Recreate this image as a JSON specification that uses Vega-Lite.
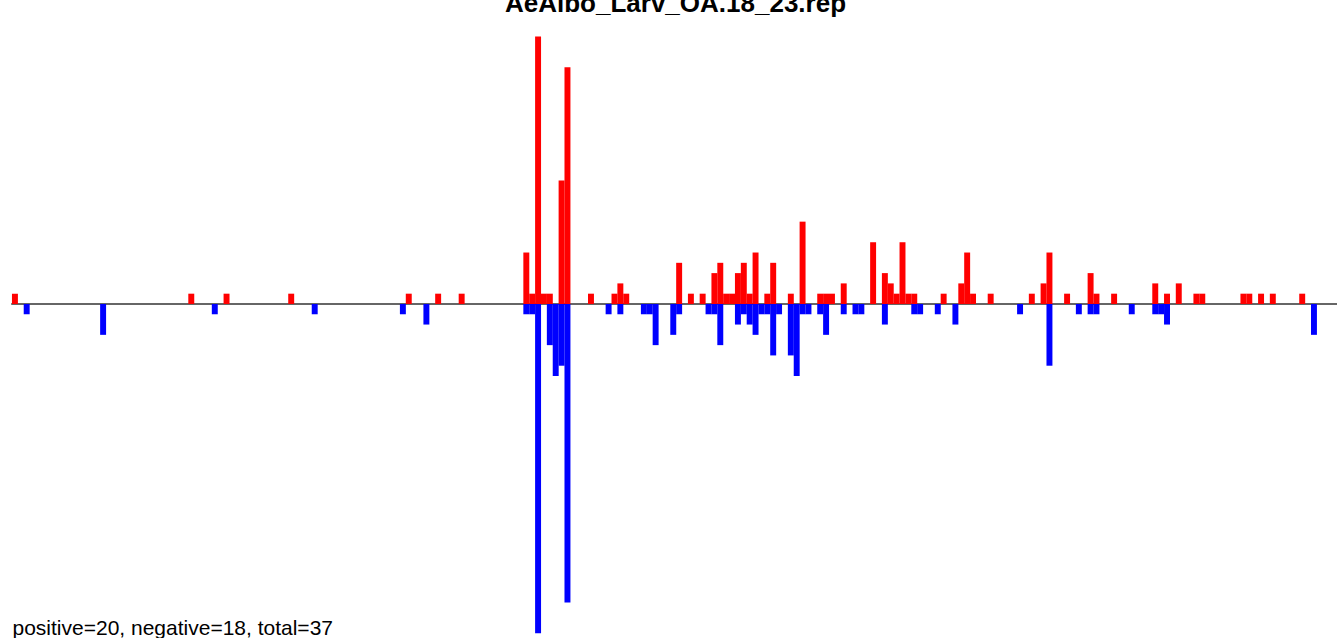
{
  "$schema": "https://vega.github.io/schema/vega-lite/v6.json",
  "width": 1337,
  "height": 638,
  "autosize": {"type": "none"},
  "padding": 0,
  "background": "white",
  "config": {"view": {"stroke": null}},
  "data": {"values": [
    {"i":0,"v":1,"s":"pos"},{"i":30,"v":1,"s":"pos"},{"i":36,"v":1,"s":"pos"},{"i":47,"v":1,"s":"pos"},{"i":67,"v":1,"s":"pos"},{"i":72,"v":1,"s":"pos"},{"i":76,"v":1,"s":"pos"},
    {"i":87,"v":5,"s":"pos"},{"i":88,"v":1,"s":"pos"},{"i":89,"v":26,"s":"pos"},{"i":90,"v":1,"s":"pos"},{"i":91,"v":1,"s":"pos"},{"i":93,"v":12,"s":"pos"},{"i":94,"v":23,"s":"pos"},
    {"i":98,"v":1,"s":"pos"},{"i":102,"v":1,"s":"pos"},{"i":103,"v":2,"s":"pos"},{"i":104,"v":1,"s":"pos"},{"i":113,"v":4,"s":"pos"},{"i":115,"v":1,"s":"pos"},{"i":117,"v":1,"s":"pos"},
    {"i":119,"v":3,"s":"pos"},{"i":120,"v":4,"s":"pos"},{"i":121,"v":1,"s":"pos"},{"i":122,"v":1,"s":"pos"},{"i":123,"v":3,"s":"pos"},{"i":124,"v":4,"s":"pos"},{"i":125,"v":1,"s":"pos"},
    {"i":126,"v":5,"s":"pos"},{"i":128,"v":1,"s":"pos"},{"i":129,"v":4,"s":"pos"},{"i":132,"v":1,"s":"pos"},{"i":134,"v":8,"s":"pos"},{"i":137,"v":1,"s":"pos"},{"i":138,"v":1,"s":"pos"},
    {"i":139,"v":1,"s":"pos"},{"i":141,"v":2,"s":"pos"},{"i":146,"v":6,"s":"pos"},{"i":148,"v":3,"s":"pos"},{"i":149,"v":2,"s":"pos"},{"i":150,"v":1,"s":"pos"},{"i":151,"v":6,"s":"pos"},
    {"i":152,"v":1,"s":"pos"},{"i":153,"v":1,"s":"pos"},{"i":158,"v":1,"s":"pos"},{"i":161,"v":2,"s":"pos"},{"i":162,"v":5,"s":"pos"},{"i":163,"v":1,"s":"pos"},{"i":166,"v":1,"s":"pos"},
    {"i":173,"v":1,"s":"pos"},{"i":175,"v":2,"s":"pos"},{"i":176,"v":5,"s":"pos"},{"i":179,"v":1,"s":"pos"},{"i":183,"v":3,"s":"pos"},{"i":184,"v":1,"s":"pos"},{"i":187,"v":1,"s":"pos"},
    {"i":194,"v":2,"s":"pos"},{"i":196,"v":1,"s":"pos"},{"i":198,"v":2,"s":"pos"},{"i":201,"v":1,"s":"pos"},{"i":202,"v":1,"s":"pos"},{"i":209,"v":1,"s":"pos"},{"i":210,"v":1,"s":"pos"},
    {"i":212,"v":1,"s":"pos"},{"i":214,"v":1,"s":"pos"},{"i":219,"v":1,"s":"pos"},
    {"i":2,"v":-1,"s":"neg"},{"i":15,"v":-3,"s":"neg"},{"i":34,"v":-1,"s":"neg"},{"i":51,"v":-1,"s":"neg"},{"i":66,"v":-1,"s":"neg"},{"i":70,"v":-2,"s":"neg"},
    {"i":87,"v":-1,"s":"neg"},{"i":88,"v":-1,"s":"neg"},{"i":89,"v":-32,"s":"neg"},{"i":91,"v":-4,"s":"neg"},{"i":92,"v":-7,"s":"neg"},{"i":93,"v":-6,"s":"neg"},{"i":94,"v":-29,"s":"neg"},
    {"i":101,"v":-1,"s":"neg"},{"i":103,"v":-1,"s":"neg"},{"i":107,"v":-1,"s":"neg"},{"i":108,"v":-1,"s":"neg"},{"i":109,"v":-4,"s":"neg"},{"i":112,"v":-3,"s":"neg"},{"i":113,"v":-1,"s":"neg"},
    {"i":118,"v":-1,"s":"neg"},{"i":119,"v":-1,"s":"neg"},{"i":120,"v":-4,"s":"neg"},{"i":123,"v":-2,"s":"neg"},{"i":124,"v":-1,"s":"neg"},{"i":125,"v":-2,"s":"neg"},{"i":126,"v":-3,"s":"neg"},
    {"i":127,"v":-1,"s":"neg"},{"i":128,"v":-1,"s":"neg"},{"i":129,"v":-5,"s":"neg"},{"i":130,"v":-1,"s":"neg"},{"i":132,"v":-5,"s":"neg"},{"i":133,"v":-7,"s":"neg"},{"i":134,"v":-1,"s":"neg"},
    {"i":135,"v":-1,"s":"neg"},{"i":137,"v":-1,"s":"neg"},{"i":138,"v":-3,"s":"neg"},{"i":141,"v":-1,"s":"neg"},{"i":143,"v":-1,"s":"neg"},{"i":144,"v":-1,"s":"neg"},{"i":148,"v":-2,"s":"neg"},
    {"i":153,"v":-1,"s":"neg"},{"i":154,"v":-1,"s":"neg"},{"i":157,"v":-1,"s":"neg"},{"i":160,"v":-2,"s":"neg"},{"i":171,"v":-1,"s":"neg"},{"i":176,"v":-6,"s":"neg"},{"i":181,"v":-1,"s":"neg"},
    {"i":183,"v":-1,"s":"neg"},{"i":184,"v":-1,"s":"neg"},{"i":190,"v":-1,"s":"neg"},{"i":194,"v":-1,"s":"neg"},{"i":195,"v":-1,"s":"neg"},{"i":196,"v":-2,"s":"neg"},{"i":221,"v":-3,"s":"neg"}
  ]},
  "resolve": {"axis": {"x": "independent"}},
  "layer": [
    {
      "mark": {"type": "rule", "color": "#666666", "strokeWidth": 1},
      "encoding": {
        "x": {"datum": -0.5, "type": "quantitative", "scale": {"domain": [-2.5415, 224.92], "nice": false, "zero": false, "padding": 0},
              "axis": {"orient": "top", "title": "AeAlbo_Larv_OA.18_23.rep", "labels": false, "ticks": false, "domain": false, "grid": false,
                       "titleAnchor": "start", "titleAlign": "center", "titleBaseline": "alphabetic", "titleX": 675, "titleY": 11,
                       "titleFont": "Liberation Sans", "titleFontSize": 26, "titleFontWeight": "bold", "titleColor": "black"}},
        "x2": {"datum": 226},
        "y": {"datum": 0, "type": "quantitative", "scale": {"domain": [-32.46, 29.54], "nice": false, "zero": false, "padding": 0}, "axis": null}
      }
    },
    {
      "mark": {"type": "bar", "width": 5.95, "strokeWidth": 0},
      "encoding": {
        "x": {"field": "i", "type": "quantitative", "scale": {"domain": [-2.5415, 224.92], "nice": false, "zero": false, "padding": 0},
              "axis": {"orient": "bottom", "title": "positive=20, negative=18, total=37", "labels": false, "ticks": false, "domain": false, "grid": false,
                       "titleAnchor": "start", "titleAlign": "left", "titleBaseline": "alphabetic", "titleX": 12, "titleY": -4,
                       "titleFont": "Liberation Sans", "titleFontSize": 21, "titleFontWeight": "normal", "titleColor": "black"}},
        "y": {"field": "v", "type": "quantitative", "stack": null, "scale": {"domain": [-32.46, 29.54], "nice": false, "zero": false, "padding": 0}, "axis": null},
        "color": {"field": "s", "type": "nominal", "scale": {"domain": ["pos", "neg"], "range": ["#ff0000", "#0000ff"]}, "legend": null}
      }
    }
  ]
}
